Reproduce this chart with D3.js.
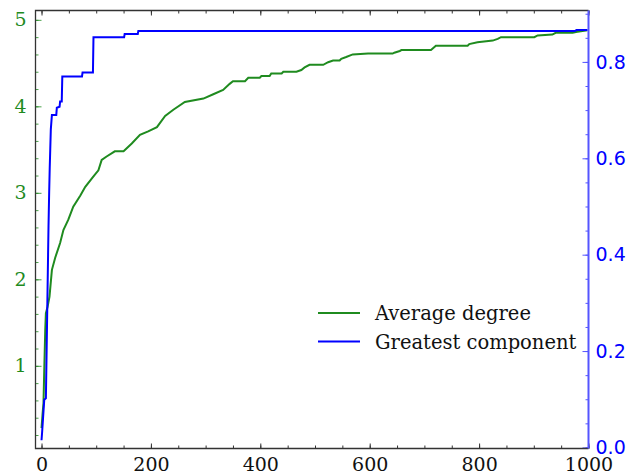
<!DOCTYPE html>
<html>
<head>
<meta charset="utf-8">
<script src="https://cdn.jsdelivr.net/npm/d3@7"></script>
<style>
  body { margin: 0; background: #fff; }
  svg { display: block; }
</style>
</head>
<body>
<div id="chart"></div>
<script>
// average degree (left axis)
var degX = [0, 2, 3.6, 5, 6.8, 8, 11, 14.6, 19, 25, 34, 40, 49, 58, 71, 80, 95, 104, 110, 119,
    134, 150, 165, 180, 195, 211, 226, 241, 262, 296, 314, 332, 344, 350, 372, 378, 399, 402,
    417, 420, 439, 442, 466, 475, 481, 490, 515, 524, 533, 545, 548, 557, 569, 597, 642, 645,
    655, 658, 712, 721, 779, 782, 797, 825, 834, 840, 901, 907, 934, 940, 971, 977, 998];
var avgDegree = [0.28, 0.45, 0.57, 0.95, 1.41, 1.61, 1.68, 1.80, 2.11, 2.25, 2.42, 2.57, 2.69,
    2.84, 2.97, 3.07, 3.19, 3.26, 3.38, 3.42, 3.48, 3.48, 3.57, 3.67, 3.71, 3.76, 3.89, 3.96,
    4.05, 4.09, 4.14, 4.19, 4.26, 4.29, 4.29, 4.33, 4.33, 4.35, 4.35, 4.38, 4.38, 4.40, 4.40,
    4.42, 4.45, 4.48, 4.48, 4.51, 4.53, 4.53, 4.55, 4.57, 4.60, 4.61, 4.61, 4.62, 4.64, 4.65,
    4.65, 4.70, 4.70, 4.72, 4.74, 4.76, 4.78, 4.80, 4.80, 4.82, 4.83, 4.85, 4.85, 4.86, 4.88];

// greatest component fraction (right axis)
var compX = [0, 1, 5, 8, 10, 12.8, 14, 15, 16, 17, 19, 27, 28, 33, 34, 37, 38, 74, 75, 94, 95,
    151, 152, 176, 177, 975, 978, 998];
var greatestComp = [0.015, 0.03, 0.099, 0.102, 0.25, 0.46, 0.53, 0.58, 0.62, 0.66, 0.69, 0.69,
    0.705, 0.707, 0.718, 0.718, 0.77, 0.77, 0.778, 0.778, 0.851, 0.851, 0.858, 0.858, 0.864,
    0.864, 0.866, 0.866];

var xTicks = [0, 200, 400, 600, 800, 1000];
var xMinor = d3.range(0, 1001, 50);
var leftTicks = [1, 2, 3, 4, 5];
var leftMinor = d3.range(0.2, 5.01, 0.2);
var rightTicks = [0.0, 0.2, 0.4, 0.6, 0.8];
var rightMinor = d3.range(0, 0.901, 0.05);
var seriesNames = ["Average degree", "Greatest component"];

var width = 636;
var height = 475;
var frame = { left: 35.5, right: 588.5, top: 10.5, bottom: 448.5 };

var green = "#1f8b1f";
var blue = "#0000ff";
var serif = "DejaVu Serif, serif";
var sans = "DejaVu Sans, sans-serif";

var svg = d3.select("#chart").append("svg")
    .attr("width", width)
    .attr("height", height);

var x = d3.scaleLinear().domain([-11, 1000]).range([frame.left, frame.right]);
var yLeft = d3.scaleLinear().domain([0.044, 5.108]).range([frame.bottom, frame.top]);
var yRight = d3.scaleLinear().domain([-0.0022, 0.9067]).range([frame.bottom, frame.top]);

function tidy(g) {
    g.select(".domain").remove();
    g.selectAll("text").attr("font-size", 19);
}

// minor ticks first, then major ones with labels
svg.append("g")
    .attr("transform", "translate(0," + frame.bottom + ")")
    .call(d3.axisBottom(x).tickValues(xMinor).tickSize(-3).tickFormat(""))
    .call(tidy);
svg.append("g")
    .attr("transform", "translate(0," + frame.bottom + ")")
    .call(d3.axisBottom(x).tickValues(xTicks).tickSize(-5).tickPadding(9).tickFormat(d3.format("d")))
    .call(tidy)
    .selectAll("text").attr("font-family", serif).attr("fill", "#111");

svg.append("g")
    .attr("transform", "translate(0," + frame.top + ")")
    .call(d3.axisTop(x).tickValues(xMinor).tickSize(-3).tickFormat(""))
    .call(tidy);
svg.append("g")
    .attr("transform", "translate(0," + frame.top + ")")
    .call(d3.axisTop(x).tickValues(xTicks).tickSize(-5).tickFormat(""))
    .call(tidy);

svg.selectAll(".tick line").attr("stroke", "#333");

var leftMinorG = svg.append("g")
    .attr("transform", "translate(" + frame.left + ",0)")
    .call(d3.axisLeft(yLeft).tickValues(leftMinor).tickSize(-3).tickFormat(""))
    .call(tidy);
leftMinorG.selectAll("line").attr("stroke", green).attr("opacity", 0.8);

var leftG = svg.append("g")
    .attr("transform", "translate(" + frame.left + ",0)")
    .call(d3.axisLeft(yLeft).tickValues(leftTicks).tickSize(-6).tickPadding(9).tickFormat(d3.format("d")))
    .call(tidy);
leftG.selectAll("line").attr("stroke", green).attr("opacity", 0.8);
leftG.selectAll("text").attr("font-family", serif).attr("fill", green);

var rightMinorG = svg.append("g")
    .attr("transform", "translate(" + frame.right + ",0)")
    .call(d3.axisRight(yRight).tickValues(rightMinor).tickSize(-3).tickFormat(""))
    .call(tidy);
rightMinorG.selectAll("line").attr("stroke", "#5555ff");

var rightG = svg.append("g")
    .attr("transform", "translate(" + frame.right + ",0)")
    .call(d3.axisRight(yRight).tickValues(rightTicks).tickSize(-6).tickPadding(7).tickFormat(d3.format(".1f")))
    .call(tidy);
rightG.selectAll("line").attr("stroke", "#5555ff");
rightG.selectAll("text").attr("font-family", sans).attr("fill", blue);

// lines
var degLine = d3.line()
    .x(function (d, i) { return x(degX[i]); })
    .y(function (d) { return yLeft(d); });

var compLine = d3.line()
    .x(function (d, i) { return x(compX[i]); })
    .y(function (d) { return yRight(d); });

svg.append("path")
    .datum(avgDegree)
    .attr("d", degLine)
    .attr("fill", "none")
    .attr("stroke", green)
    .attr("stroke-width", 2);

svg.append("path")
    .datum(greatestComp)
    .attr("d", compLine)
    .attr("fill", "none")
    .attr("stroke", blue)
    .attr("stroke-width", 2);

// frame: three dark spines and a blue right one
svg.append("path")
    .attr("d", "M" + frame.right + "," + frame.top + "H" + frame.left + "V" + frame.bottom + "H" + frame.right)
    .attr("fill", "none")
    .attr("stroke", "#333")
    .attr("stroke-width", 1.3);
svg.append("line")
    .attr("x1", frame.right).attr("x2", frame.right)
    .attr("y1", frame.top).attr("y2", frame.bottom)
    .attr("stroke", "#5555ff")
    .attr("stroke-width", 2);

// legend
var legend = svg.append("g")
    .attr("transform", "translate(318,313)");

var rows = legend.selectAll(".row")
    .data(seriesNames)
    .enter().append("g")
    .attr("class", "row")
    .attr("transform", function (d, i) { return "translate(0," + i * 28.5 + ")"; });

rows.append("line")
    .attr("x1", 0).attr("x2", 42)
    .attr("stroke", function (d, i) { return i == 0 ? green : blue; })
    .attr("stroke-width", 2);

rows.append("text")
    .attr("x", 57)
    .attr("y", 7)
    .attr("font-family", serif)
    .attr("font-size", 19.5)
    .attr("fill", "#111")
    .text(function (d) { return d; });
</script>
</body>
</html>
